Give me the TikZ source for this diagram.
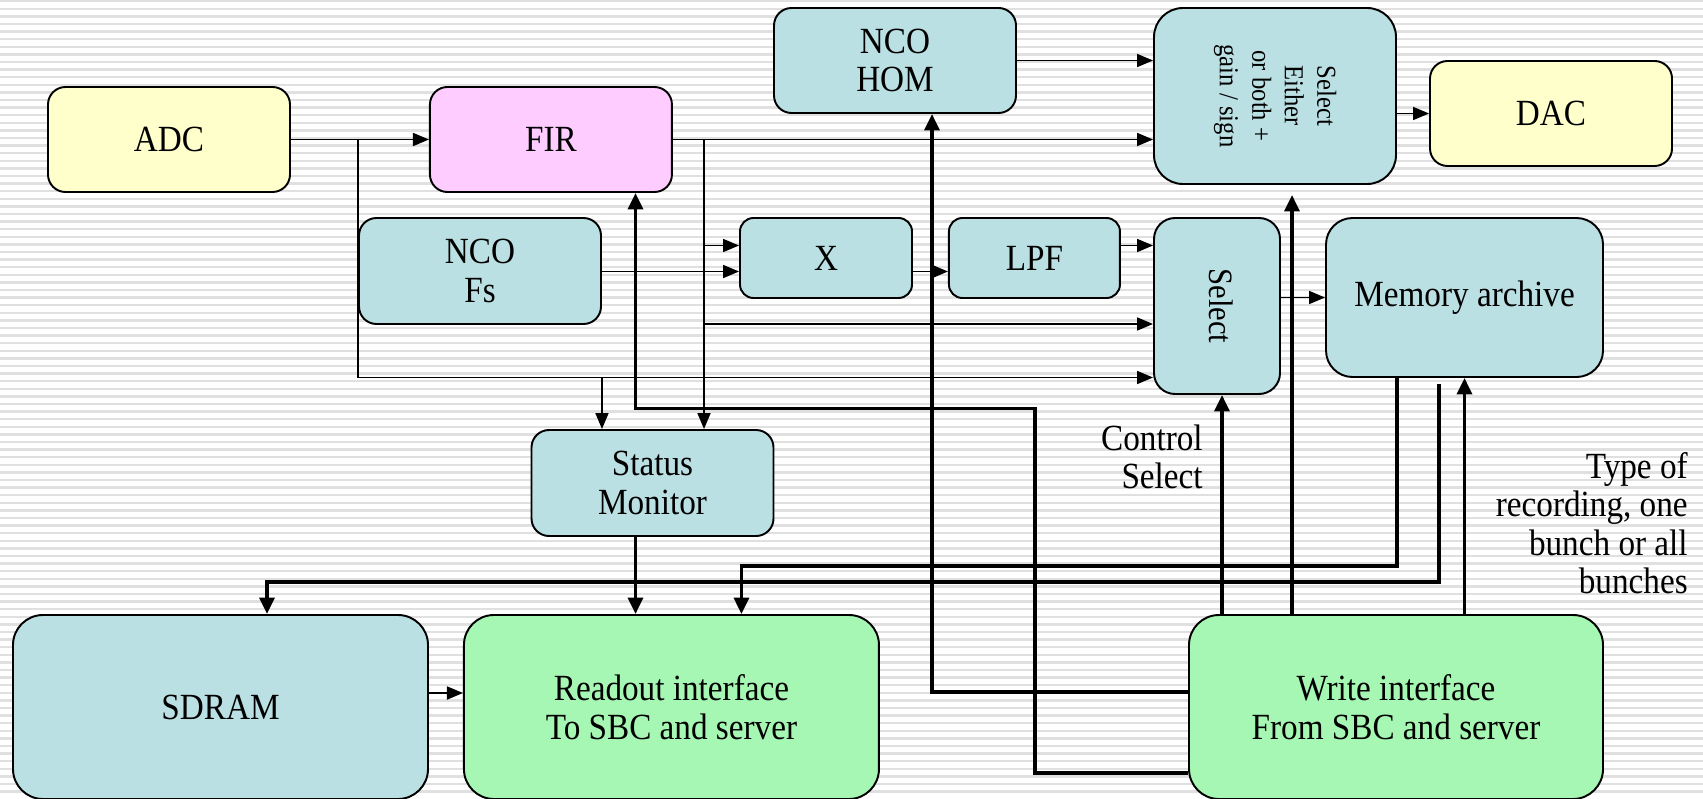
\documentclass[tikz,border=0pt]{standalone}
\usepackage{fontspec}
\usepackage{graphicx}
\setmainfont{Liberation Serif}[FakeStretch=0.9]
\usetikzlibrary{arrows.meta, positioning}
\definecolor{dspblue}{RGB}{187, 224, 227}
\definecolor{dspyellow}{RGB}{255, 255, 204}
\definecolor{dsppink}{RGB}{255, 204, 255}
\definecolor{dspgreen}{RGB}{166, 247, 179}
\definecolor{dspstripe}{RGB}{224, 224, 224}
% text turned to read from top to bottom
\newcommand{\sidetext}[2]{\rotatebox{-90}{#1\begin{tabular}{@{}c@{}}#2\end{tabular}}}

\begin{document}
\begin{tikzpicture}[x=0.2mm, y=-0.2mm, font=\fontsize{21}{21.9}\selectfont]
    % Styles
    \tikzstyle{block} = [rectangle, draw=black, line width=1.1pt, fill=dspblue,
        align=center, inner sep=0pt, rounded corners=0.35cm,
        minimum width=4.84cm, minimum height=2.1cm]
    \tikzstyle{iface} = [block, fill=dspgreen, minimum width=8.3cm,
        minimum height=3.68cm, rounded corners=0.6cm]
    \tikzstyle{wire} = [line width=1pt, -{Triangle[length=0.32cm, width=0.26cm]}]
    \tikzstyle{bus} = [line width=2pt, -{Triangle[length=0.33cm, width=0.3cm]}]
    \tikzstyle{note} = [align=right, anchor=east, inner sep=0pt]

    % Striped background
    \useasboundingbox (0,0) rectangle (1703,798);
    \fill[white] (0,0) rectangle (1703,798);
    \foreach \i in {0,...,104}
        \draw[dspstripe, line width=0.05cm] (0,{1.2+7.6*\i}) -- (1703,{1.2+7.6*\i});

    % Signal path blocks
    \node[block, fill=dspyellow] (adc) at (169,139.5) {ADC};
    \node[block, fill=dsppink, right=2.76cm of adc] (fir) {FIR};
    \node[block] (ncohom) at (895,60.5) {NCO\\HOM};
    \node[block, minimum height=3.52cm, rounded corners=0.58cm] (selboth) at (1275,96)
        {\sidetext{\fontsize{15.6}{18.5}\selectfont}{Select\\Either\\or both +\\gain / sign}};
    \node[block, fill=dspyellow] (dac) at (1551,113.5) {DAC};
    \node[block, minimum height=2.12cm] (ncofs) at (480,271) {NCO\\Fs};
    \node[block, minimum width=3.44cm, minimum height=1.6cm, rounded corners=0.27cm] (xmix) at (826,258) {X};
    \node[block, minimum width=3.42cm, minimum height=1.6cm, rounded corners=0.27cm,
        right=0.7cm of xmix] (lpf) {LPF};
    \node[block, minimum width=2.52cm, minimum height=3.52cm, rounded corners=0.42cm] (sel) at (1217,306)
        {\sidetext{\fontsize{19.4}{20}\selectfont}{Select}};
    \node[block, minimum width=5.54cm, minimum height=3.18cm, rounded corners=0.53cm] (mem) at (1464.5,297.5)
        {Memory archive};
    \node[block, minimum height=2.12cm] (status) at (652.5,483) {Status\\Monitor};

    % Interfaces and SDRAM
    \node[iface, fill=dspblue] (sdram) at (220.5,707) {SDRAM};
    \node[iface, right=0.68cm of sdram] (readout) {Readout interface\\To SBC and server};
    \node[iface, minimum width=8.28cm] (write) at (1396,707) {Write interface\\From SBC and server};

    % Labels
    \node[note] (ctrl) at (1203,457) {Control\\Select};
    \node[note] (rectype) at (1688,523) {Type of\\recording, one\\bunch or all\\bunches};

    % Taps and entry points
    \coordinate (adctap) at (358,139.5);
    \coordinate (firtap) at (704,139.5);
    \coordinate (xa) at ([yshift=0.25cm]xmix.west);
    \coordinate (xb) at ([yshift=-0.27cm]xmix.west);
    \coordinate (sa) at ([yshift=1.21cm]sel.west);
    \coordinate (sb) at ([yshift=-0.36cm]sel.west);
    \coordinate (sc) at ([yshift=-1.43cm]sel.west);
    \coordinate (rawtap) at (ncofs.east |- sc);

    % Data wires
    \draw[wire] (adc) -- (fir);
    \draw[wire] (fir) -- (fir -| selboth.west);
    \draw[wire] (ncohom) -- (ncohom -| selboth.west);
    \draw[wire] (dac -| selboth.east) -- (dac);
    \draw[wire] (firtap |- xa) -- (xa);
    \draw[wire] (ncofs.east |- xb) -- (xb);
    \draw[wire] (xmix.east |- xb) -- (xb -| lpf.west);
    \draw[wire] (lpf.east |- sa) -- (sa);
    \draw[wire] (firtap |- sb) -- (sb);
    \draw[wire] (adctap) |- (sc);
    \draw[wire] (rawtap) -- (rawtap |- status.north);
    \draw[wire] (firtap) -- (firtap |- status.north);
    \draw[wire] (sel.east |- mem) -- (mem);
    \draw[wire] ([yshift=0.28cm]sdram.east) -- ([yshift=0.28cm]readout.west);

    % Control and readout buses
    \coordinate (smout) at ([xshift=-0.34cm]status.south);
    \coordinate (firin) at (smout |- fir.south);
    \coordinate (fbturn) at (1035,408.5);
    \coordinate (homin) at ([xshift=0.74cm]ncohom.south);
    \coordinate (selin) at ([xshift=0.1cm]sel.south);
    \coordinate (bothin) at ([xshift=0.34cm]selboth.south);
    \coordinate (memout) at ([xshift=-1.35cm]mem.south);
    \coordinate (recout) at ([xshift=-0.51cm, yshift=-0.12cm]mem.south);
    \coordinate (rdin) at ([xshift=1.4cm]readout.north);
    \coordinate (sdin) at ([xshift=0.93cm]sdram.north);

    \draw[bus] (smout) -- (smout |- readout.north);
    \draw[bus] ([yshift=-1.32cm]write.west) -| (fbturn) -| (firin);
    \draw[bus] ([yshift=0.3cm]write.west) -| (homin);
    \draw[bus] (selin |- write.north) -- (selin);
    \draw[bus, shorten >=0.2cm] (bothin |- write.north) -- (bothin);
    \draw[bus] (mem.south |- write.north) -- (mem.south);
    \draw[bus] (memout) |- ([yshift=0.96cm]rdin) -- (rdin);
    \draw[bus] (recout) |- ([yshift=0.64cm]sdin) -- (sdin);
\end{tikzpicture}
\end{document}
